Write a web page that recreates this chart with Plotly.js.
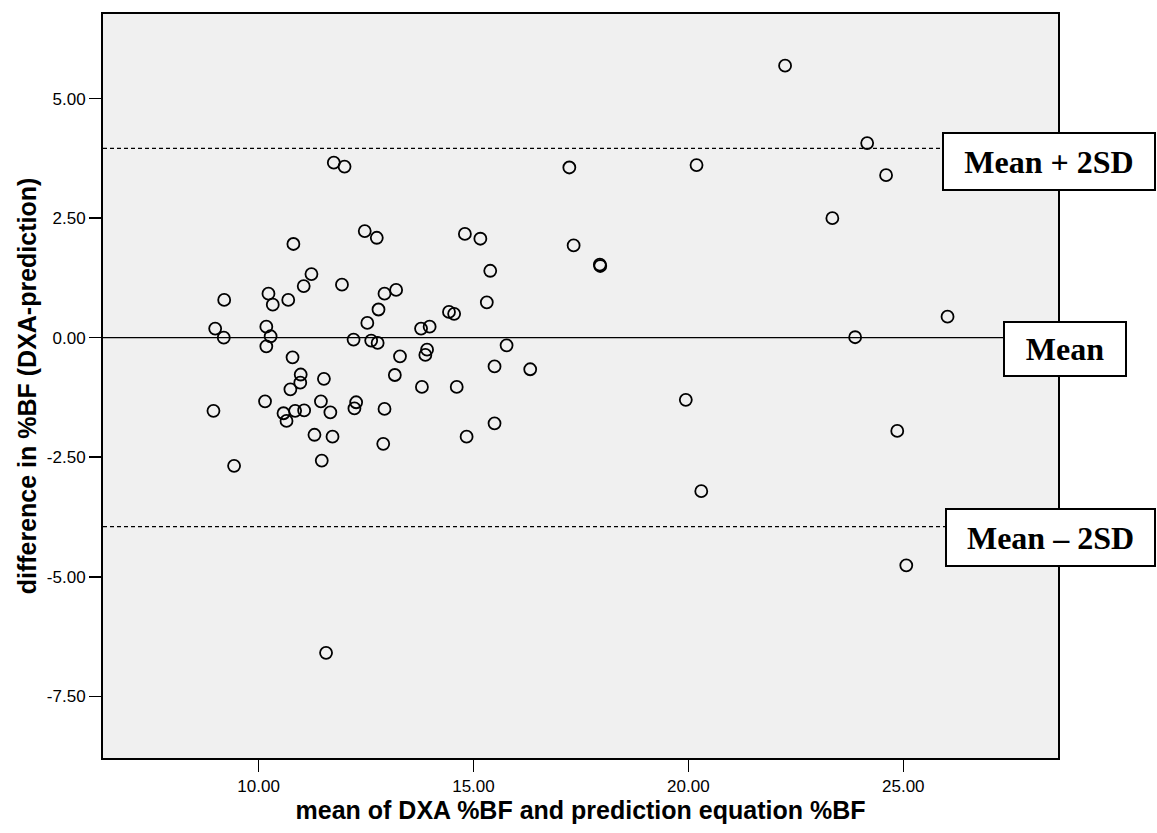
<!DOCTYPE html>
<html>
<head>
<meta charset="utf-8">
<script src="https://cdn.plot.ly/plotly-3.0.1.min.js"></script>
<style>html,body{margin:0;padding:0;background:#fff;}#chart{width:1157px;height:833px;}</style>
</head>
<body>
<div id="chart"></div>
<script>
// mean of DXA %BF and prediction equation %BF
const meanBF = [10.81,12.47,12.75,11.23,11.05,11.94,12.93,9.20,10.23,10.33,10.69,12.79,12.53,8.99,9.19,10.18,10.28,10.18,12.21,12.62,12.77,10.79,10.98,10.97,10.74,11.52,13.17,10.15,8.95,10.58,10.65,10.85,11.06,11.45,11.67,12.27,12.23,12.93,11.30,11.72,12.90,11.47,9.43,11.75,12.00,14.80,15.16,17.33,15.39,13.20,15.31,14.43,14.55,13.78,13.98,15.77,13.92,13.88,13.29,15.49,16.32,13.80,14.61,14.84,15.49,22.25,24.16,17.23,20.19,24.60,23.35,17.94,17.95,26.03,23.88,19.94,24.86,20.30,25.07,11.57];
// difference in %BF (DXA - prediction)
const diffBF = [1.96,2.23,2.09,1.33,1.08,1.11,0.92,0.79,0.92,0.69,0.79,0.59,0.31,0.19,0.00,0.23,0.03,-0.18,-0.04,-0.06,-0.11,-0.41,-0.77,-0.94,-1.08,-0.86,-0.78,-1.33,-1.53,-1.58,-1.74,-1.53,-1.52,-1.33,-1.56,-1.35,-1.48,-1.49,-2.03,-2.07,-2.22,-2.57,-2.68,3.66,3.58,2.17,2.07,1.93,1.40,1.00,0.74,0.54,0.50,0.19,0.23,-0.16,-0.25,-0.36,-0.39,-0.60,-0.66,-1.03,-1.03,-2.07,-1.79,5.69,4.07,3.56,3.61,3.40,2.50,1.53,1.50,0.44,0.01,-1.30,-1.95,-3.21,-4.76,-6.59];
const meanDiff = 0.0;
const upperLimit = 3.96;
const lowerLimit = -3.95;
const tickVals = [10, 15, 20, 25];
const tickText = ['10.00', '15.00', '20.00', '25.00'];
const yTickVals = [5, 2.5, 0, -2.5, -5, -7.5];
const yTickText = ['5.00', '2.50', '0.00', '-2.50', '-5.00', '-7.50'];
const limitLabels = ['Mean + 2SD', 'Mean', 'Mean \u2013 2SD'];

const xRange = [6.38, 28.6];
const yRange = [-8.79, 6.77];

const trace = {
  x: meanBF, y: diffBF, type: 'scatter', mode: 'markers',
  marker: {symbol: 'circle-open', size: 12, color: '#000', line: {width: 1.8, color: '#000'}},
  hoverinfo: 'x+y', showlegend: false
};

const refLines = [
  {y: meanDiff, dash: 'solid'},
  {y: upperLimit, dash: '4px,3px'},
  {y: lowerLimit, dash: '4px,3px'}
].map(r => ({
  type: 'line', xref: 'paper', yref: 'y', x0: 0, x1: 1, y0: r.y, y1: r.y,
  line: {color: '#000', width: 1.3, dash: r.dash}, layer: 'below'
}));

// label boxes: placement (paper coords of top-left corner) and inner size in px
const boxFont = {family: '"Liberation Serif", "Times New Roman", serif', size: 32, color: '#000'};
const boxPlace = [
  {x: 0.8785, y: 0.8418, w: 208, h: 53},
  {x: 0.9424, y: 0.5878, w: 118, h: 50},
  {x: 0.8817, y: 0.3360, w: 205, h: 53}
];
const annotations = limitLabels.map((t, i) => ({
  text: '<b>' + t + '</b>', xref: 'paper', yref: 'paper', x: boxPlace[i].x, y: boxPlace[i].y,
  xanchor: 'left', yanchor: 'top', showarrow: false, font: boxFont,
  bgcolor: '#fff', bordercolor: '#000', borderwidth: 2, borderpad: 1,
  width: boxPlace[i].w, height: boxPlace[i].h, align: 'center', valign: 'middle'
}));

const titleFont = {family: '"Liberation Sans Narrow", "Arial Narrow", "Liberation Sans", Arial, sans-serif', size: 25, color: '#000'};
const tickFont = {family: '"Liberation Sans", Arial, sans-serif', size: 17, color: '#000'};

const layout = {
  width: 1157, height: 833,
  margin: {l: 103, r: 99, t: 14, b: 75},
  paper_bgcolor: '#fff', plot_bgcolor: '#f0f0f0',
  xaxis: {
    range: xRange, tickvals: tickVals, ticktext: tickText,
    showgrid: false, zeroline: false, showline: true, mirror: true,
    linecolor: '#000', linewidth: 2, ticks: 'outside', ticklen: 12, tickwidth: 1.5, tickcolor: '#000',
    tickfont: tickFont,
    title: {text: '<b>mean of DXA %BF and prediction equation %BF</b>', standoff: 3, font: titleFont}
  },
  yaxis: {
    range: yRange, tickvals: yTickVals, ticktext: yTickText,
    showgrid: false, zeroline: false, showline: true, mirror: true,
    linecolor: '#000', linewidth: 2, ticks: 'outside', ticklen: 12, tickwidth: 1.5, tickcolor: '#000',
    tickfont: tickFont,
    title: {text: '<b>difference in %BF (DXA-prediction)</b>', standoff: 3, font: titleFont}
  },
  shapes: refLines,
  annotations: annotations
};

Plotly.newPlot('chart', [trace], layout, {displayModeBar: false, staticPlot: true});
</script>
</body>
</html>
